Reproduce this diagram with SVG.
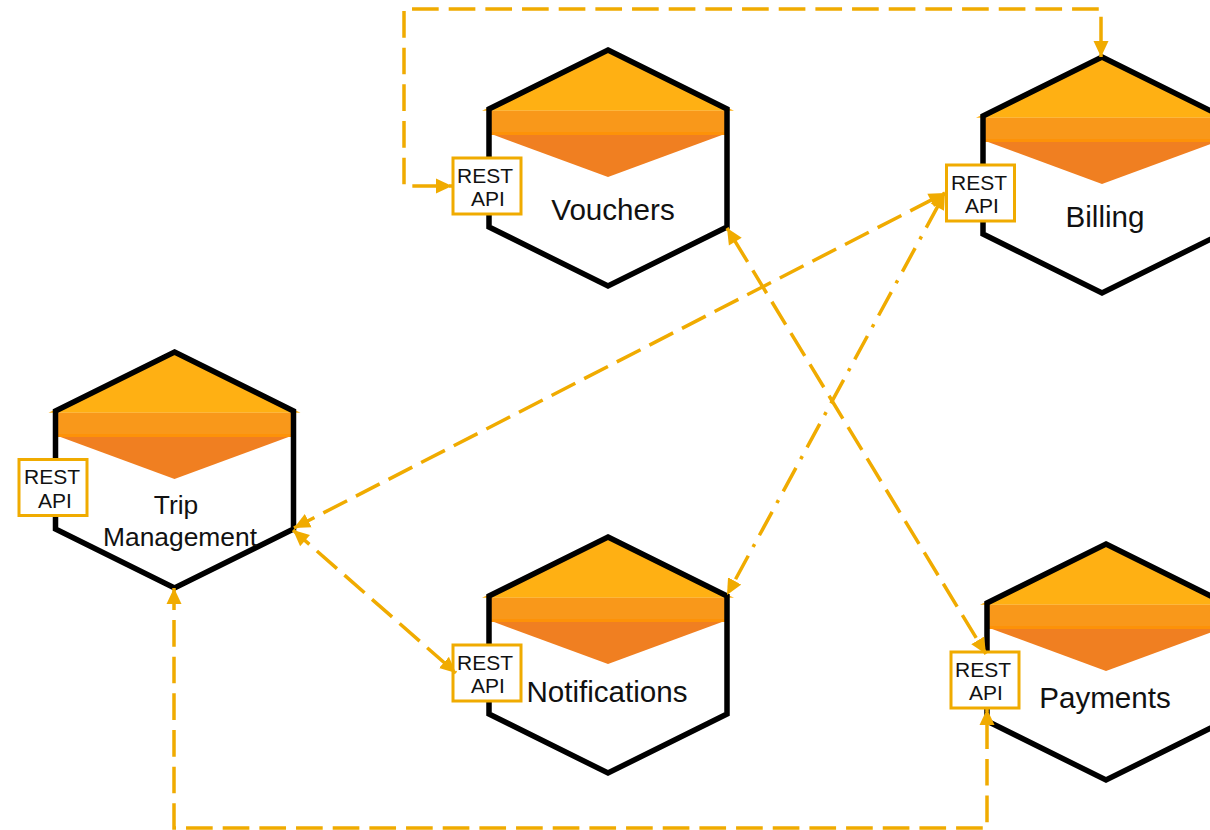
<svg xmlns="http://www.w3.org/2000/svg" width="1210" height="830" viewBox="0 0 1210 830">
<style>
text{font-family:"Liberation Sans",Arial,sans-serif;fill:#111;text-anchor:middle}
.lbl{font-size:29.6px}
.lbl2{font-size:26.4px}
.rest{font-size:21px}
.hex{fill:none;stroke:#000;stroke-width:5.500;stroke-miterlimit:10}
.box{fill:#fff;stroke:#F0AB00;stroke-width:3}
.c{fill:none;stroke:#F0AB00;stroke-width:3.500;marker-start:url(#s);marker-end:url(#e)}
.d{stroke-dasharray:26.670 10}
.dd{stroke-dasharray:26.670 10 3.330 10}
</style>
<defs>
<marker id="e" markerUnits="userSpaceOnUse" markerWidth="18" markerHeight="16" refX="16" refY="8" orient="auto"><path d="M0,0.500L16,8L0,15.500z" fill="#F0AB00"/></marker>
<marker id="s" markerUnits="userSpaceOnUse" markerWidth="18" markerHeight="16" refX="0" refY="8" orient="auto"><path d="M16,0.500L0,8L16,15.500z" fill="#F0AB00"/></marker>
<g id="h">
<path d="M0,0L126,60.700H-126z" fill="#FFB013"/>
<rect x="-119" y="60.700" width="238" height="24.300" fill="#F9981A"/>
<rect x="-119" y="82" width="238" height="3" fill="#FD9208"/>
<path d="M-114,85H114L0,127z" fill="#F07F21"/>
<path class="hex" d="M0,0L119,59V177L0,236L-119,177V59z"/>
</g>
</defs>
<rect width="1210" height="830" fill="#fff"/>
<g id="trip"><use href="#h" x="174.500" y="352"/><text class="lbl2" x="176" y="514">Trip</text><text class="lbl2" x="180" y="546">Management</text></g>
<g id="vouchers"><use href="#h" x="608" y="50"/><text class="lbl" x="613" y="220">Vouchers</text></g>
<g id="billing"><use href="#h" x="1102" y="57"/><text class="lbl" x="1105" y="227">Billing</text></g>
<g id="notifications"><use href="#h" x="608" y="537"/><text class="lbl" x="607" y="702">Notifications</text></g>
<g id="payments"><use href="#h" x="1106" y="544"/><text class="lbl" x="1105" y="708">Payments</text></g>
<g id="rest-vouchers"><rect class="box" x="453" y="158" width="68" height="56"/><text class="rest" x="485" y="183">REST</text><text class="rest" x="488" y="206">API</text></g>
<g id="rest-billing"><rect class="box" x="946.500" y="165" width="68" height="56"/><text class="rest" x="979" y="190">REST</text><text class="rest" x="982" y="213">API</text></g>
<g id="rest-trip"><rect class="box" x="19" y="459.500" width="68" height="56"/><text class="rest" x="52" y="484">REST</text><text class="rest" x="55" y="508">API</text></g>
<g id="rest-notifications"><rect class="box" x="453" y="645" width="68" height="56"/><text class="rest" x="485" y="670">REST</text><text class="rest" x="488" y="693">API</text></g>
<g id="rest-payments"><rect class="box" x="951" y="652" width="68" height="56"/><text class="rest" x="983" y="677">REST</text><text class="rest" x="986" y="700">API</text></g>
<g id="connectors">
<path class="c d" stroke-dashoffset="-13" d="M452,186H404V9H1101V57"/>
<path class="c d" stroke-dashoffset="-12.400" d="M945,193L294,528"/>
<path class="c dd" stroke-dashoffset="-12.680" d="M945,193L727,595"/>
<path class="c d" stroke-dashoffset="-13" d="M727,228L986,654"/>
<path class="c d" stroke-dashoffset="4.870" d="M293,530L456,673"/>
<path class="c d" stroke-dashoffset="4.670" d="M174,588V828H987V709"/>
</g>
</svg>
